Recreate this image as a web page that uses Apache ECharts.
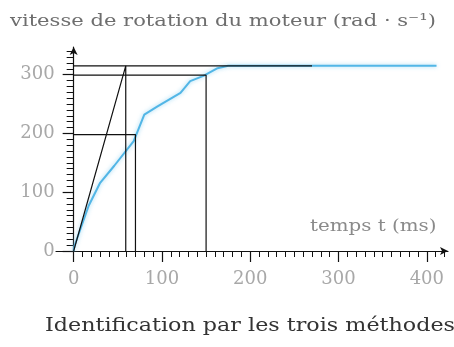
<!DOCTYPE html>
<html>
<head>
<meta charset="utf-8">
<script src="https://cdn.jsdelivr.net/npm/echarts@6/dist/echarts.min.js"></script>
<style>
  html, body { margin: 0; padding: 0; background: #fff; }
  #chart { width: 454px; height: 347px; }
</style>
</head>
<body>
<div id="chart"></div>
<script>
// Measured motor speed response (time in ms, speed in rad/s)
const timeMs = [0, 1, 17, 30, 46, 68, 80, 95, 121, 132, 147, 163, 175, 200, 250, 300, 350, 411];
const speed  = [0, 9, 77, 116, 145, 187, 232, 246, 269, 289, 298, 311, 315, 315, 315, 315, 315, 315];

// Identification constructions
const finalValue = 315;       // steady-state speed
const finalLineEnd = 270;     // extent of the steady-state line (ms)
const tangentTime = 59;       // tangent at origin reaches the final value
const value63 = 198;          // 63 % of final value
const time63 = 70;
const value95 = 299;          // 95 % of final value
const time95 = 150;

// Axis ticks and labels
const xMajorTicks = [0, 100, 200, 300, 400];
const xMinorTicks = [0,10,20,30,40,50,60,70,80,90,100,110,120,130,140,150,160,170,180,190,200,210,220,230,240,250,260,270,280,290,300,310,320,330,340,350,360,370,380,390,400,410,420];
const yMajorTicks = [0, 100, 200, 300];
const yMinorTicks = [0,10,20,30,40,50,60,70,80,90,100,110,120,130,140,150,160,170,180,190,200,210,220,230,240,250,260,270,280,290,300,310,320,330,340];

const titleText = 'vitesse de rotation du moteur (rad · s⁻¹)';
const xAxisName = 'temps t (ms)';
const caption = 'Identification par les trois méthodes';

const serif = '"DejaVu Serif", "Liberation Serif", serif';
const labelColor = '#a8a8a8';
const ink = '#111';

// Plot area: time starts at -20 ms so the time axis pokes out left of the origin
const W = 454, H = 347;
const gridLeft = 56, gridRight = 6, gridTop = 47, gridBottom = 96;
const xMin = -20, xMax = 424, yMin = 0, yMax = 347;
const originX = gridLeft + (0 - xMin) * (W - gridLeft - gridRight) / (xMax - xMin);

const chart = echarts.init(document.getElementById('chart'), null, { renderer: 'canvas' });

const blackLine = { color: ink, width: 1.2 };
const axisLineStyle = { color: ink, width: 1.2 };
const noLabel = { show: false };
const noSplit = { show: false };

chart.setOption({
  animation: false,
  backgroundColor: '#fff',
  grid: [
    // main plot
    { left: gridLeft, right: gridRight, top: gridTop, bottom: gridBottom },
    // strip under the time axis, carries its tick labels
    { left: gridLeft, right: gridRight, top: H - gridBottom, bottom: 0 },
    // strip left of the speed axis, carries its tick labels
    { left: 0, right: W - originX, top: gridTop, bottom: gridBottom }
  ],
  xAxis: [
    // axis line through the origin, major ticks hanging below
    {
      type: 'value', gridIndex: 0, min: xMin, max: xMax, position: 'top',
      axisLine: { show: true, onZero: true, symbol: ['none', 'arrow'], symbolSize: [6, 8], lineStyle: axisLineStyle },
      axisTick: { show: true, inside: true, customValues: xMajorTicks, length: 11, lineStyle: { color: ink, width: 1.2 } },
      axisLabel: noLabel, splitLine: noSplit
    },
    // minor ticks
    {
      type: 'value', gridIndex: 0, min: xMin, max: xMax, position: 'top',
      axisLine: { show: false, onZero: true },
      axisTick: { show: true, inside: true, customValues: xMinorTicks, length: 6, lineStyle: { color: ink, width: 1 } },
      axisLabel: noLabel, splitLine: noSplit
    },
    // tick labels
    {
      type: 'value', gridIndex: 1, min: xMin, max: xMax, position: 'top',
      axisLine: { show: false, onZero: false },
      axisTick: { show: false },
      axisLabel: { show: true, inside: true, customValues: xMajorTicks, margin: 19, color: labelColor, fontFamily: serif, fontSize: 18 },
      splitLine: noSplit
    },
    { type: 'value', gridIndex: 2, show: false, position: 'top', min: 0, max: 1 }
  ],
  yAxis: [
    {
      type: 'value', gridIndex: 0, min: yMin, max: yMax, position: 'right',
      axisLine: { show: true, onZero: true, symbol: ['none', 'arrow'], symbolSize: [6, 8], lineStyle: axisLineStyle },
      axisTick: { show: true, inside: true, customValues: yMajorTicks, length: 11, lineStyle: { color: ink, width: 1.2 } },
      axisLabel: noLabel, splitLine: noSplit
    },
    {
      type: 'value', gridIndex: 0, min: yMin, max: yMax, position: 'right',
      axisLine: { show: false, onZero: true },
      axisTick: { show: true, inside: true, customValues: yMinorTicks, length: 7, lineStyle: { color: ink, width: 1 } },
      axisLabel: noLabel, splitLine: noSplit
    },
    { type: 'value', gridIndex: 1, show: false, position: 'right', min: 0, max: 1 },
    {
      type: 'value', gridIndex: 2, min: yMin, max: yMax, position: 'right',
      axisLine: { show: false, onZero: false },
      axisTick: { show: false },
      axisLabel: { show: true, inside: true, customValues: yMajorTicks, margin: 19, color: labelColor, fontFamily: serif, fontSize: 18 },
      splitLine: noSplit
    }
  ],
  series: [
    {
      type: 'line', name: 'vitesse', showSymbol: false, z: 3,
      data: timeMs.map((t, i) => [t, speed[i]]),
      lineStyle: { color: '#52b6e6', width: 2, shadowColor: 'rgba(130,205,240,0.8)', shadowBlur: 4 }
    },
    {
      type: 'line', showSymbol: false, z: 4,
      data: [[0, finalValue], [finalLineEnd, finalValue]],
      lineStyle: blackLine
    },
    {
      type: 'line', showSymbol: false, z: 4,
      data: [[0, 0], [tangentTime, finalValue], [tangentTime, 0]],
      lineStyle: blackLine
    },
    {
      type: 'line', showSymbol: false, z: 4,
      data: [[0, value63], [time63, value63], [time63, 0]],
      lineStyle: blackLine
    },
    {
      type: 'line', showSymbol: false, z: 4,
      data: [[0, value95], [time95, value95], [time95, 0]],
      lineStyle: blackLine
    }
  ],
  graphic: [
    { type: 'text', x: 10, y: 13, scaleX: 1.24, style: { text: titleText, font: '17px ' + serif, fill: '#6e6e6e' } },
    { type: 'text', x: 310, y: 219, scaleX: 1.24, style: { text: xAxisName, font: '16px ' + serif, fill: '#8a8a8a' } },
    { type: 'text', x: 45, y: 317, scaleX: 1.17, style: { text: caption, font: '19px ' + serif, fill: '#333' } }
  ]
});
</script>
</body>
</html>
